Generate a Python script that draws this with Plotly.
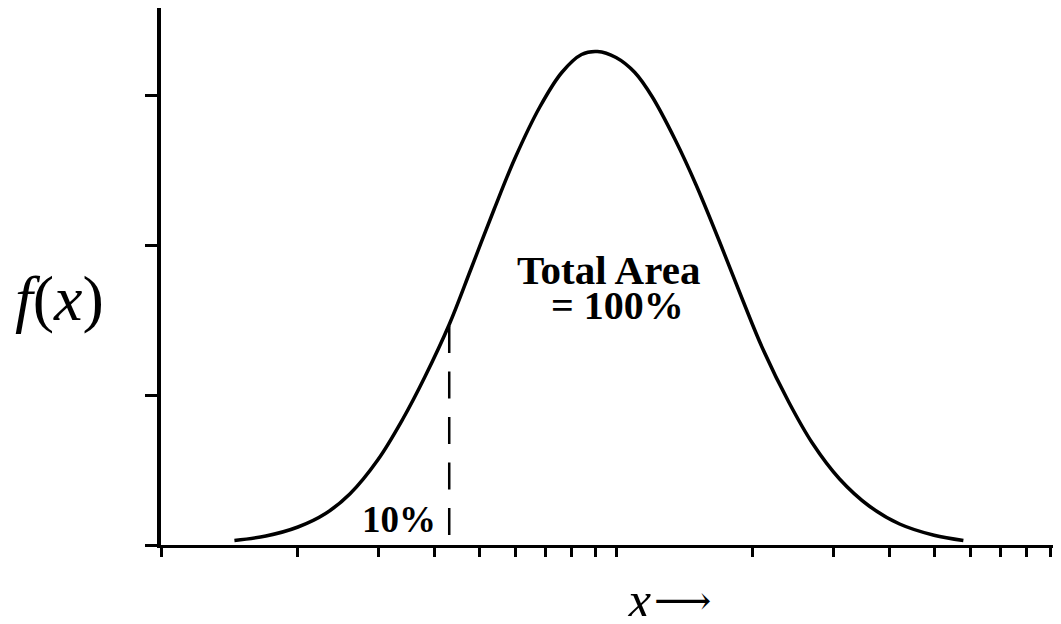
import plotly.graph_objects as go

# Curve (x on a log axis, y in units of the y ticks)
curve_x = [1.45, 1.7, 2.0, 2.3, 2.6, 3.0, 3.4, 3.8, 4.3, 4.8, 5.4, 6.0, 6.8, 7.6, 8.4, 9.1,
           10, 11, 12, 13.5, 15, 17, 19, 21, 24, 27, 31, 36, 42, 50, 58]
curve_y = [0.03, 0.06, 0.12, 0.21, 0.34, 0.57, 0.84, 1.12, 1.47, 1.84, 2.24, 2.58, 2.92, 3.15, 3.27, 3.29,
           3.25, 3.15, 2.99, 2.70, 2.40, 2.00, 1.63, 1.31, 0.95, 0.68, 0.44, 0.26, 0.14, 0.065, 0.03]

# 10% cut-off (dashed line), drawn from the curve down to the axis
cut_x = [4.30, 4.30]
cut_y = [1.46, 0.0]

x_ticks = [1, 2, 3, 4, 5, 6, 7, 8, 9, 10, 20, 30, 40, 50, 60, 70, 80, 90]
y_ticks = [0, 1, 2, 3]

fig = go.Figure()
fig.add_trace(go.Scatter(x=curve_x, y=curve_y, mode="lines",
                         line=dict(color="black", width=3.5, shape="spline", smoothing=1.0),
                         hoverinfo="skip", showlegend=False))
fig.add_trace(go.Scatter(x=cut_x, y=cut_y, mode="lines",
                         line=dict(color="black", width=2.5, dash="27px,18.5px"),
                         hoverinfo="skip", showlegend=False))

# page body has an 8px margin: figure is placed at (8, 8) in the window
W, H = 1053, 608
L, R, T, B = 153, 0, 0, 71
PW, PH = 900, 537  # plot area in pixels


def px(x):
    # x in window pixels -> paper
    return (x - 161) / PW


def py(y):
    # y in window pixels -> paper
    return (545 - y) / PH


times = "Liberation Serif"
annotations = [
    dict(text="<b>Total Area</b>", x=px(608), y=py(270), font=dict(family=times, size=41, color="black")),
    dict(text="<b>= 100%</b>", x=px(617), y=py(305), font=dict(family=times, size=40, color="black")),
    dict(text="<b>10%</b>", x=px(399), y=py(519), font=dict(family=times, size=37, color="black")),
    dict(text="<i>f</i>(<i>x</i>)", x=px(59), y=py(299), font=dict(family=times, size=64, color="black")),
    dict(text="<i>x</i>", x=px(639), y=py(600), font=dict(family=times, size=52, color="black")),
    dict(text="⟶", x=px(682), y=py(600), font=dict(family="DejaVu Serif", size=40, color="black")),
]
for a in annotations:
    a.update(xref="paper", yref="paper", xanchor="center", yanchor="middle", showarrow=False)

fig.update_layout(
    width=W, height=H,
    margin=dict(l=L, r=R, t=T, b=B),
    paper_bgcolor="white", plot_bgcolor="white",
    annotations=annotations,
    xaxis=dict(type="log", range=[0, 1.978], tickmode="array", tickvals=x_ticks,
               showticklabels=False, ticks="outside", ticklen=9, tickwidth=2.5, tickcolor="black",
               showline=True, linewidth=3, linecolor="black", showgrid=False, zeroline=False),
    yaxis=dict(range=[0, 3.58], tickmode="array", tickvals=y_ticks,
               showticklabels=False, ticks="outside", ticklen=12, tickwidth=3, tickcolor="black",
               showline=True, linewidth=3.5, linecolor="black", showgrid=False, zeroline=False),
)

fig.write_html("out.html")
